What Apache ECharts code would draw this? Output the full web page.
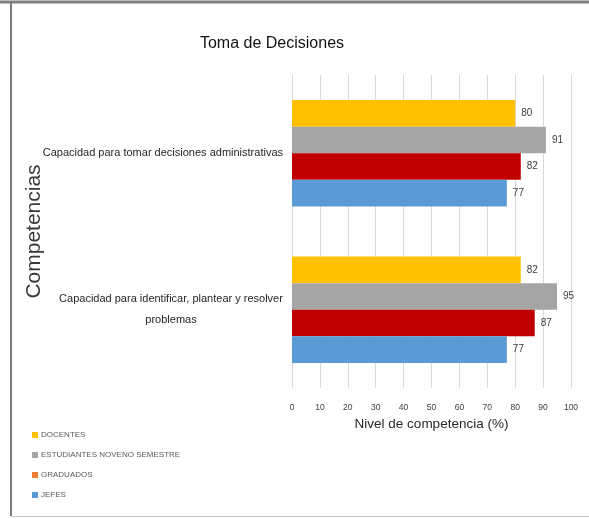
<!DOCTYPE html>
<html>
<head>
<meta charset="utf-8">
<script src="https://cdn.jsdelivr.net/npm/echarts@6/dist/echarts.min.js"></script>
<style>
  html, body { margin: 0; padding: 0; background: #fff; }
  #chart { width: 589px; height: 519px; }
</style>
</head>
<body>
<div id="chart"></div>
<script>
// Competency level per group, for each decision-making skill
const categories = [
  'Capacidad para tomar decisiones administrativas',
  'Capacidad para identificar, plantear y resolver\nproblemas'
];
const seriesNames = ['DOCENTES', 'ESTUDIANTES NOVENO SEMESTRE', 'GRADUADOS', 'JEFES'];
const docentes = [80, 82];
const estudiantes = [91, 95];
const graduados = [82, 87];
const jefes = [77, 77];
const xTicks = [0, 10, 20, 30, 40, 50, 60, 70, 80, 90, 100];

const barColors = ['#FFC000', '#A5A5A5', '#C00000', '#5B9BD5'];
const legendColors = ['#FFC000', '#A5A5A5', '#ED7D31', '#5B9BD5'];
const font = '"Liberation Sans", Arial, sans-serif';
const catFont = 11;

// width of the first line of the two-line label, so its second line can be centred under it
const ctx = document.createElement('canvas').getContext('2d');
ctx.font = catFont + 'px ' + font;
const firstLineW = Math.ceil(ctx.measureText(categories[1].split('\n')[0]).width);

const values = [docentes, estudiantes, graduados, jefes];
const chart = echarts.init(document.getElementById('chart'), null, { renderer: 'canvas' });

chart.setOption({
  animation: false,
  backgroundColor: '#fff',
  title: {
    text: 'Toma de Decisiones',
    left: 267,
    top: 31,
    textAlign: 'center',
    textStyle: { fontFamily: font, fontSize: 16, fontWeight: 'normal', color: '#111' }
  },
  legend: {
    orient: 'vertical',
    left: 27,
    top: 424,
    itemWidth: 6,
    itemHeight: 6,
    itemGap: 8,
    icon: 'rect',
    selectedMode: false,
    textStyle: { fontFamily: font, fontSize: 8, color: '#595959', lineHeight: 12, padding: [0, 0, 0, -2] },
    data: seriesNames.map((n, i) => ({ name: n, itemStyle: { color: legendColors[i] } }))
  },
  grid: { left: 292, right: 18, top: 75, bottom: 131, containLabel: false, outerBoundsMode: 'none' },
  xAxis: {
    type: 'value',
    min: 0,
    max: 100,
    interval: 10,
    name: 'Nivel de competencia (%)',
    nameLocation: 'middle',
    nameGap: 29,
    nameMoveOverlap: false,
    nameTextStyle: { fontFamily: font, fontSize: 13.5, color: '#262626' },
    axisLine: { show: false },
    axisTick: { show: false },
    axisLabel: {
      margin: 15,
      fontFamily: font,
      fontSize: 8.5,
      color: '#404040',
      formatter: v => (xTicks.indexOf(v) >= 0 ? String(v) : '')
    },
    splitLine: { lineStyle: { color: '#D9D9D9', width: 1 } }
  },
  yAxis: {
    type: 'category',
    inverse: true,
    data: [
      { value: categories[0] },
      { value: categories[1], textStyle: { align: 'center', padding: [0, firstLineW, 0, 0] } }
    ],
    name: 'Competencias',
    nameLocation: 'middle',
    nameGap: 247,
    nameRotate: 90,
    nameMoveOverlap: false,
    nameTextStyle: { fontFamily: font, fontSize: 21, color: '#3A3A3A' },
    axisLine: { show: false },
    axisTick: { show: false },
    axisLabel: {
      margin: 9,
      fontFamily: font,
      fontSize: catFont,
      lineHeight: 21,
      color: '#262626'
    },
    splitLine: { show: false }
  },
  series: seriesNames.map((n, i) => ({
    name: n,
    type: 'bar',
    data: values[i],
    barGap: '0%',
    barCategoryGap: '32%',
    itemStyle: { color: barColors[i] },
    label: {
      show: true,
      position: 'right',
      distance: 6,
      fontFamily: font,
      fontSize: 10,
      color: '#404040'
    }
  })),
  graphic: [
    { type: 'line', shape: { x1: 0, y1: 2, x2: 589, y2: 2 }, style: { stroke: '#7F7F7F', lineWidth: 3 }, silent: true },
    { type: 'line', shape: { x1: 11, y1: 2, x2: 11, y2: 516 }, style: { stroke: '#7A7A7A', lineWidth: 2 }, silent: true },
    { type: 'line', shape: { x1: 11, y1: 516.5, x2: 589, y2: 516.5 }, style: { stroke: '#C8C8C8', lineWidth: 1 }, silent: true }
  ]
});
</script>
</body>
</html>
